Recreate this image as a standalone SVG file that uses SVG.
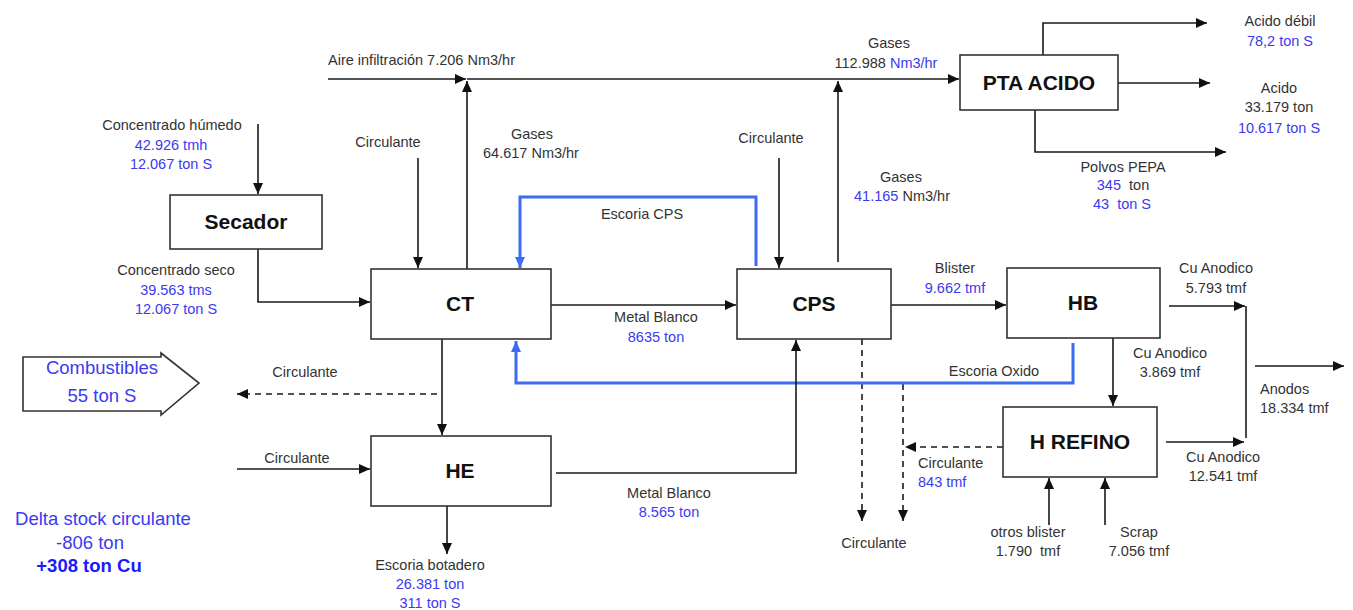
<svg xmlns="http://www.w3.org/2000/svg" width="1353" height="610" viewBox="0 0 1353 610">
<defs>
<marker id="ah" markerUnits="userSpaceOnUse" markerWidth="12" markerHeight="10" refX="11" refY="5" orient="auto"><path d="M0,0 L11,5 L0,10 z" fill="#111"/></marker>
<marker id="ahb" markerUnits="userSpaceOnUse" markerWidth="12" markerHeight="10" refX="11" refY="5" orient="auto"><path d="M0,0 L11,5 L0,10 z" fill="#3a6cf4"/></marker>
</defs>
<style>
.box{fill:#fff;stroke:#333;stroke-width:1.6}
.c{fill:none;stroke:#1a1a1a;stroke-width:1.6}
.a{marker-end:url(#ah)}
.d{stroke-dasharray:6,5}
.b{fill:none;stroke:#3a6cf4;stroke-width:3;marker-end:url(#ahb)}
text{font-family:"Liberation Sans",Arial,sans-serif;font-size:14.5px;fill:#333;white-space:pre}
.m{text-anchor:middle}
.bl{fill:#3a3af0}
.t{font-size:21px;font-weight:bold;fill:#111;text-anchor:middle}
.big{font-size:18.5px;fill:#3a3af0;text-anchor:middle}
</style>
<rect width="1353" height="610" fill="#fff"/>

<g id="connectors">
<path class="c a" d="M328,79 H466"/>
<path class="c a" d="M467,79 H959"/>
<path class="c a" d="M467,269 V81"/>
<path class="c a" d="M838,262 V81"/>
<path class="c a" d="M1043,55 V23 H1207"/>
<path class="c a" d="M1118,83 H1210"/>
<path class="c a" d="M1035,110 V152 H1226"/>
<path class="c a" d="M258,124 V194"/>
<path class="c a" d="M258,249 V302 H370"/>
<path class="c a" d="M418,158 V268"/>
<path class="c a" d="M779,158 V268"/>
<path class="b" d="M756,266 V197 H520 V268"/>
<path class="c a" d="M551,305 H736"/>
<path class="c a" d="M891,305 H1006"/>
<path class="c a" d="M1169,306 H1245"/>
<path class="c" d="M1246,306 V438"/>
<path class="c a" d="M1113,338 V406"/>
<path class="c a" d="M1166,442 H1244"/>
<path class="c a" d="M1255,366 H1344"/>
<path class="c a" d="M1049,525 V478"/>
<path class="c a" d="M1105,525 V478"/>
<path class="c a d" d="M1003,447 H905"/>
<path class="c a d" d="M862,339 V521"/>
<path class="c a d" d="M903,384 V521"/>
<path class="b" d="M1073,343 V383 H516 V341"/>
<path class="c a" d="M556,473 H796 V340"/>
<path class="c a" d="M442,339 V435"/>
<path class="c a d" d="M437,394 H237"/>
<path class="c a" d="M237,469 H370"/>
<path class="c a" d="M447,506 V554"/>
</g>

<g id="secador"><rect class="box" x="170" y="195" width="152" height="54"/><text class="t" x="246" y="229">Secador</text></g>
<g id="ct"><rect class="box" x="371" y="269" width="180" height="70"/><text class="t" x="460" y="311">CT</text></g>
<g id="cps"><rect class="box" x="737" y="269" width="154" height="70"/><text class="t" x="814" y="311">CPS</text></g>
<g id="hb"><rect class="box" x="1007" y="268" width="153" height="70"/><text class="t" x="1083" y="310">HB</text></g>
<g id="pta"><rect class="box" x="960" y="55" width="158" height="55"/><text class="t" x="1039" y="90">PTA ACIDO</text></g>
<g id="he"><rect class="box" x="371" y="436" width="180" height="70"/><text class="t" x="460" y="478">HE</text></g>
<g id="hrefino"><rect class="box" x="1003" y="407" width="154" height="70"/><text class="t" x="1080" y="449">H REFINO</text></g>
<g id="combustibles"><polygon class="box" points="23,357 161,357 161,353 199,383 161,415 161,411 23,411"/><text class="big" x="102" y="374">Combustibles</text><text class="big" x="102" y="402">55 ton S</text></g>

<g id="labels">
<text x="328" y="65">Aire infiltración 7.206 Nm3/hr</text>
<text class="m" x="889" y="48">Gases</text>
<text class="m" x="886" y="68">112.988 <tspan class="bl">Nm3/hr</tspan></text>
<text class="m" x="1280" y="26">Acido débil</text>
<text class="m bl" x="1280" y="46">78,2 ton S</text>
<text class="m" x="1279" y="93">Acido</text>
<text class="m" x="1279" y="112">33.179 ton</text>
<text class="m bl" x="1279" y="133">10.617 ton S</text>
<text class="m" x="1123" y="172">Polvos PEPA</text>
<text class="m" x="1123" y="190"><tspan class="bl">345</tspan>  ton</text>
<text class="m bl" x="1122" y="209">43  ton S</text>
<text class="m" x="172" y="130">Concentrado húmedo</text>
<text class="m bl" x="171" y="150">42.926 tmh</text>
<text class="m bl" x="171" y="169">12.067 ton S</text>
<text class="m" x="388" y="147">Circulante</text>
<text class="m" x="532" y="139">Gases</text>
<text class="m" x="531" y="158">64.617 Nm3/hr</text>
<text class="m" x="771" y="143">Circulante</text>
<text class="m" x="901" y="182">Gases</text>
<text class="m" x="902" y="201"><tspan class="bl">41.165</tspan> Nm3/hr</text>
<text class="m" x="642" y="219">Escoria CPS</text>
<text class="m" x="176" y="275">Concentrado seco</text>
<text class="m bl" x="176" y="295">39.563 tms</text>
<text class="m bl" x="176" y="314">12.067 ton S</text>
<text class="m" x="656" y="322">Metal Blanco</text>
<text class="m bl" x="656" y="342">8635 ton</text>
<text class="m" x="955" y="273">Blister</text>
<text class="m bl" x="955" y="293">9.662 tmf</text>
<text class="m" x="1216" y="273">Cu Anodico</text>
<text class="m" x="1216" y="293">5.793 tmf</text>
<text class="m" x="1170" y="358">Cu Anodico</text>
<text class="m" x="1170" y="377">3.869 tmf</text>
<text class="m" x="994" y="376">Escoria Oxido</text>
<text class="m" x="305" y="377">Circulante</text>
<text x="1260" y="394">Anodos</text>
<text x="1260" y="413">18.334 tmf</text>
<text class="m" x="297" y="463">Circulante</text>
<text x="918" y="468">Circulante</text>
<text class="bl" x="918" y="487">843 tmf</text>
<text class="m" x="1223" y="462">Cu Anodico</text>
<text class="m" x="1223" y="481">12.541 tmf</text>
<text class="m" x="669" y="498">Metal Blanco</text>
<text class="m bl" x="669" y="517">8.565 ton</text>
<text class="big" x="103" y="525">Delta stock circulante</text>
<text class="big" x="90" y="549">-806 ton</text>
<text class="big" x="89" y="572" font-weight="bold" style="fill:#1a1aff">+308 ton Cu</text>
<text class="m" x="1028" y="537">otros blister</text>
<text class="m" x="1028" y="556">1.790  tmf</text>
<text class="m" x="1139" y="537">Scrap</text>
<text class="m" x="1139" y="556">7.056 tmf</text>
<text class="m" x="874" y="548">Circulante</text>
<text class="m" x="430" y="570">Escoria botadero</text>
<text class="m bl" x="430" y="589">26.381 ton</text>
<text class="m bl" x="430" y="608">311 ton S</text>
</g>
</svg>
